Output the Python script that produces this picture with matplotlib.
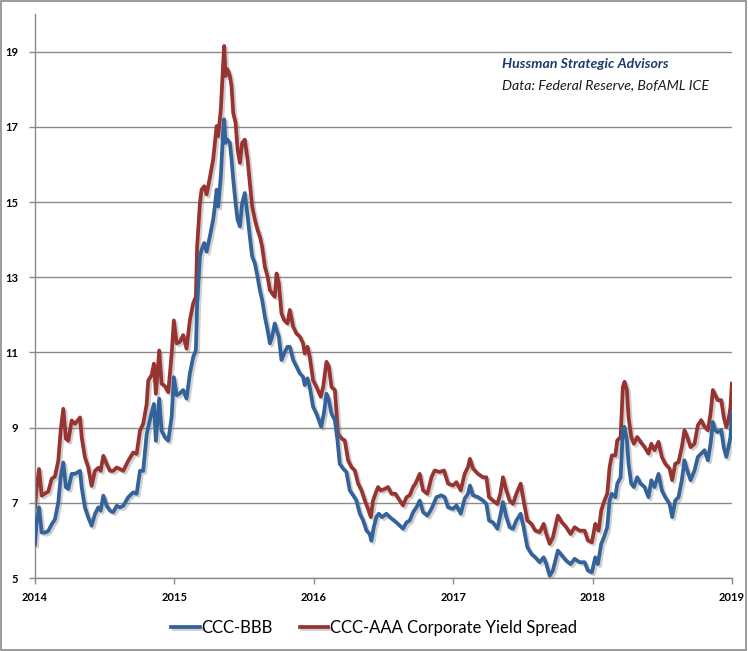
import matplotlib
matplotlib.use("Agg")
import matplotlib.pyplot as plt
import matplotlib.patheffects as pe
from matplotlib.patches import Rectangle

# CCC-AAA corporate yield spread (red), decimal year / percent
aaa_dates = [
    2014.000, 2014.012, 2014.029, 2014.048, 2014.072, 2014.095, 2014.120, 2014.143, 2014.167, 2014.184,
    2014.203, 2014.222, 2014.239, 2014.263, 2014.287, 2014.323, 2014.335, 2014.358, 2014.382, 2014.406,
    2014.430, 2014.454, 2014.471, 2014.490, 2014.514, 2014.538, 2014.561, 2014.586, 2014.609, 2014.633,
    2014.669, 2014.705, 2014.729, 2014.753, 2014.776, 2014.801, 2014.812, 2014.837, 2014.853, 2014.867,
    2014.891, 2014.908, 2014.932, 2014.956, 2014.980, 2014.996, 2015.016, 2015.039, 2015.063, 2015.087,
    2015.111, 2015.135, 2015.154, 2015.163, 2015.183, 2015.195, 2015.214, 2015.231, 2015.254, 2015.278,
    2015.290, 2015.303, 2015.314, 2015.333, 2015.350, 2015.357, 2015.367, 2015.381, 2015.398, 2015.410,
    2015.422, 2015.439, 2015.453, 2015.470, 2015.486, 2015.505, 2015.525, 2015.541, 2015.558, 2015.577,
    2015.596, 2015.613, 2015.629, 2015.649, 2015.668, 2015.685, 2015.701, 2015.720, 2015.733, 2015.749,
    2015.768, 2015.787, 2015.811, 2015.828, 2015.852, 2015.876, 2015.900, 2015.923, 2015.935, 2015.955,
    2015.971, 2015.995, 2016.019, 2016.050, 2016.067, 2016.091, 2016.108, 2016.127, 2016.151, 2016.174,
    2016.199, 2016.222, 2016.246, 2016.270, 2016.294, 2016.318, 2016.342, 2016.366, 2016.389, 2016.409,
    2016.425, 2016.442, 2016.461, 2016.480, 2016.509, 2016.533, 2016.557, 2016.586, 2016.616, 2016.640,
    2016.665, 2016.688, 2016.712, 2016.729, 2016.760, 2016.784, 2016.815, 2016.844, 2016.867, 2016.903,
    2016.934, 2016.963, 2016.999, 2017.023, 2017.054, 2017.082, 2017.106, 2017.120, 2017.142, 2017.178,
    2017.214, 2017.238, 2017.257, 2017.285, 2017.317, 2017.338, 2017.357, 2017.381, 2017.405, 2017.429,
    2017.453, 2017.484, 2017.505, 2017.532, 2017.561, 2017.589, 2017.620, 2017.649, 2017.668, 2017.692,
    2017.715, 2017.751, 2017.780, 2017.811, 2017.842, 2017.871, 2017.907, 2017.943, 2017.966, 2017.995,
    2018.019, 2018.043, 2018.062, 2018.081, 2018.105, 2018.122, 2018.138, 2018.163, 2018.177, 2018.201,
    2018.217, 2018.229, 2018.246, 2018.258, 2018.277, 2018.296, 2018.320, 2018.344, 2018.373, 2018.401,
    2018.421, 2018.444, 2018.473, 2018.497, 2018.521, 2018.552, 2018.571, 2018.593, 2018.616, 2018.640,
    2018.659, 2018.679, 2018.703, 2018.731, 2018.755, 2018.779, 2018.803, 2018.827, 2018.846, 2018.863,
    2018.880, 2018.898, 2018.923, 2018.941, 2018.959, 2018.975, 2018.989, 2018.999,
]
aaa_spread = [
    6.88, 7.41, 7.90, 7.19, 7.25, 7.30, 7.64, 7.70, 8.12, 8.92,
    9.50, 8.70, 8.65, 9.19, 9.10, 9.27, 8.74, 8.21, 7.94, 7.45,
    7.85, 7.93, 7.85, 8.25, 8.03, 7.85, 7.85, 7.94, 7.90, 7.85,
    8.12, 8.34, 8.30, 8.92, 9.10, 9.63, 10.25, 10.40, 10.70, 9.90,
    11.05, 10.17, 10.10, 9.94, 10.95, 11.85, 11.24, 11.28, 11.46, 11.10,
    11.86, 12.31, 12.48, 13.82, 14.97, 15.33, 15.42, 15.20, 15.64, 16.13,
    16.57, 17.02, 16.75, 17.46, 18.70, 19.15, 18.35, 18.53, 18.35, 18.08,
    17.37, 17.10, 16.40, 16.04, 16.57, 16.66, 16.13, 15.50, 14.88, 14.53,
    14.26, 14.08, 13.82, 13.28, 13.02, 12.66, 12.57, 12.48, 13.10, 12.84,
    12.04, 11.86, 11.77, 12.13, 11.68, 11.50, 11.42, 11.24, 10.97, 11.15,
    10.88, 10.26, 10.08, 9.82, 10.08, 10.75, 10.62, 10.08, 10.00, 8.84,
    8.71, 8.66, 8.13, 7.95, 7.86, 7.51, 7.33, 7.06, 6.84, 6.62,
    7.06, 7.24, 7.42, 7.33, 7.37, 7.42, 7.24, 7.24, 7.06, 6.93,
    7.15, 7.20, 7.42, 7.51, 7.77, 7.33, 7.24, 7.68, 7.86, 7.82,
    7.86, 7.51, 7.46, 7.55, 7.33, 7.77, 7.95, 8.17, 7.91, 7.77,
    7.68, 7.68, 7.15, 7.06, 6.97, 7.24, 7.68, 7.33, 7.06, 6.97,
    7.24, 7.51, 7.06, 6.53, 6.44, 6.26, 6.22, 6.44, 6.17, 5.91,
    6.08, 6.66, 6.48, 6.35, 6.17, 6.35, 6.26, 6.26, 6.00, 5.95,
    6.44, 6.26, 6.80, 7.02, 7.24, 7.95, 8.26, 8.26, 8.66, 8.75,
    10.08, 10.22, 10.00, 9.28, 8.75, 8.57, 8.75, 8.62, 8.48, 8.31,
    8.57, 8.40, 8.62, 8.22, 8.04, 7.91, 7.60, 8.04, 8.08, 8.48,
    8.93, 8.75, 8.48, 8.57, 9.06, 9.20, 9.02, 8.93, 9.37, 10.00,
    9.86, 9.73, 9.73, 9.28, 9.02, 9.20, 9.55, 10.17,
]

# CCC-BBB spread (blue)
bbb_dates = [
    2014.000, 2014.012, 2014.029, 2014.048, 2014.072, 2014.095, 2014.120, 2014.143, 2014.167, 2014.184,
    2014.203, 2014.222, 2014.239, 2014.263, 2014.287, 2014.323, 2014.335, 2014.358, 2014.382, 2014.406,
    2014.430, 2014.454, 2014.471, 2014.490, 2014.514, 2014.538, 2014.561, 2014.586, 2014.609, 2014.633,
    2014.669, 2014.705, 2014.729, 2014.753, 2014.776, 2014.801, 2014.812, 2014.837, 2014.853, 2014.867,
    2014.891, 2014.908, 2014.932, 2014.956, 2014.980, 2014.996, 2015.016, 2015.039, 2015.063, 2015.087,
    2015.111, 2015.135, 2015.154, 2015.163, 2015.183, 2015.195, 2015.214, 2015.231, 2015.254, 2015.278,
    2015.290, 2015.303, 2015.314, 2015.333, 2015.350, 2015.357, 2015.367, 2015.381, 2015.398, 2015.410,
    2015.422, 2015.439, 2015.453, 2015.470, 2015.486, 2015.505, 2015.525, 2015.541, 2015.558, 2015.577,
    2015.596, 2015.613, 2015.629, 2015.649, 2015.668, 2015.685, 2015.701, 2015.720, 2015.733, 2015.749,
    2015.768, 2015.787, 2015.811, 2015.828, 2015.852, 2015.876, 2015.900, 2015.923, 2015.935, 2015.955,
    2015.971, 2015.995, 2016.019, 2016.053, 2016.072, 2016.091, 2016.108, 2016.127, 2016.151, 2016.170,
    2016.186, 2016.210, 2016.234, 2016.258, 2016.282, 2016.306, 2016.330, 2016.354, 2016.378, 2016.401,
    2016.413, 2016.430, 2016.449, 2016.466, 2016.490, 2016.521, 2016.545, 2016.576, 2016.604, 2016.640,
    2016.665, 2016.688, 2016.712, 2016.736, 2016.760, 2016.784, 2016.815, 2016.844, 2016.880, 2016.915,
    2016.939, 2016.963, 2016.999, 2017.023, 2017.054, 2017.082, 2017.106, 2017.120, 2017.142, 2017.178,
    2017.214, 2017.238, 2017.257, 2017.285, 2017.317, 2017.338, 2017.357, 2017.381, 2017.405, 2017.429,
    2017.453, 2017.484, 2017.505, 2017.532, 2017.561, 2017.589, 2017.620, 2017.649, 2017.668, 2017.692,
    2017.715, 2017.751, 2017.780, 2017.811, 2017.842, 2017.871, 2017.907, 2017.943, 2017.966, 2017.995,
    2018.019, 2018.038, 2018.062, 2018.081, 2018.105, 2018.122, 2018.138, 2018.163, 2018.177, 2018.201,
    2018.217, 2018.229, 2018.246, 2018.258, 2018.277, 2018.296, 2018.320, 2018.344, 2018.373, 2018.401,
    2018.421, 2018.444, 2018.473, 2018.497, 2018.521, 2018.552, 2018.571, 2018.593, 2018.616, 2018.640,
    2018.659, 2018.679, 2018.703, 2018.731, 2018.755, 2018.779, 2018.803, 2018.827, 2018.846, 2018.863,
    2018.880, 2018.898, 2018.923, 2018.941, 2018.959, 2018.975, 2018.989, 2018.999,
]
bbb_spread = [
    5.90, 6.52, 6.88, 6.21, 6.21, 6.25, 6.43, 6.56, 7.01, 7.68,
    8.07, 7.41, 7.37, 7.77, 7.77, 7.85, 7.41, 6.88, 6.61, 6.39,
    6.70, 6.88, 6.79, 7.19, 6.92, 6.79, 6.75, 6.92, 6.88, 6.92,
    7.15, 7.28, 7.24, 7.85, 7.85, 8.83, 9.00, 9.41, 9.63, 8.65,
    9.77, 8.92, 8.74, 8.65, 9.28, 10.34, 9.86, 9.91, 10.00, 9.77,
    10.44, 10.88, 11.06, 12.31, 13.55, 13.73, 13.91, 13.68, 14.08, 14.53,
    14.88, 15.33, 14.88, 15.68, 16.93, 17.20, 16.57, 16.66, 16.57, 16.13,
    15.60, 14.97, 14.53, 14.35, 14.97, 15.24, 14.62, 14.08, 13.55, 13.37,
    13.02, 12.66, 12.40, 11.95, 11.60, 11.24, 11.42, 11.77, 11.60, 11.42,
    10.80, 10.97, 11.15, 11.15, 10.80, 10.62, 10.44, 10.35, 10.13, 10.31,
    10.08, 9.55, 9.37, 9.02, 9.37, 9.90, 9.73, 9.37, 9.20, 8.66,
    8.04, 7.91, 7.82, 7.33, 7.20, 7.06, 6.71, 6.53, 6.26, 6.17,
    5.99, 6.35, 6.62, 6.71, 6.62, 6.71, 6.62, 6.53, 6.44, 6.31,
    6.48, 6.53, 6.75, 6.88, 7.06, 6.75, 6.66, 6.84, 7.15, 7.20,
    7.15, 6.88, 6.84, 6.93, 6.71, 7.11, 7.24, 7.46, 7.20, 7.15,
    7.06, 6.97, 6.53, 6.48, 6.31, 6.66, 7.02, 6.62, 6.35, 6.31,
    6.53, 6.71, 6.35, 5.82, 5.64, 5.55, 5.42, 5.55, 5.37, 5.06,
    5.20, 5.73, 5.60, 5.46, 5.37, 5.51, 5.42, 5.42, 5.20, 5.15,
    5.55, 5.37, 5.91, 6.08, 6.35, 7.06, 7.24, 7.15, 7.51, 7.68,
    8.93, 9.02, 8.66, 8.04, 7.51, 7.42, 7.68, 7.51, 7.42, 7.15,
    7.60, 7.42, 7.77, 7.33, 7.15, 6.97, 6.62, 7.06, 7.15, 7.60,
    8.13, 7.86, 7.60, 7.86, 8.22, 8.31, 8.40, 8.13, 8.57, 9.15,
    8.93, 8.88, 8.93, 8.48, 8.22, 8.48, 8.75, 9.37,
]

year_ticks = [2014, 2015, 2016, 2017, 2018, 2019]
y_ticks = [5, 7, 9, 11, 13, 15, 17, 19]

BLUE = "#33639a"
RED = "#973431"
GRID = "#8a8a8a"

plt.rcParams["font.family"] = ["Lato", "DejaVu Sans"]

fig = plt.figure(figsize=(7.48, 6.51), dpi=100)
ax = fig.add_axes([0.0468, 0.1121, 0.9318, 0.8664])

shadow = [pe.SimpleLineShadow(offset=(1.5, -1.5), shadow_color="#777777", alpha=0.35),
          pe.Normal()]
ax.plot(bbb_dates, bbb_spread, color=BLUE, lw=2.7, label="CCC-BBB",
        path_effects=shadow, zorder=3, solid_joinstyle="round")
ax.plot(aaa_dates, aaa_spread, color=RED, lw=2.7, label="CCC-AAA Corporate Yield Spread",
        path_effects=shadow, zorder=2, solid_joinstyle="round")

ax.set_xlim(2014, 2019)
ax.set_ylim(5, 20)
ax.set_xticks(year_ticks)
ax.set_xticklabels([str(y) for y in year_ticks])
ax.set_yticks(y_ticks)
ax.set_yticklabels([str(v) for v in y_ticks])
ax.tick_params(axis="both", labelsize=8, colors=GRID, labelcolor="black",
               length=4, width=1, direction="out")
ax.tick_params(axis="y", pad=8)
ax.tick_params(axis="x", pad=6)
for lab in ax.get_xticklabels() + ax.get_yticklabels():
    lab.set_fontweight("bold")

ax.grid(axis="y", color=GRID, lw=1)
ax.set_axisbelow(True)
for side in ("top", "right"):
    ax.spines[side].set_visible(False)
for side in ("left", "bottom"):
    ax.spines[side].set_color(GRID)
    ax.spines[side].set_linewidth(1)

ax.text(0.670, 0.905, "Hussman Strategic Advisors", transform=ax.transAxes,
        fontsize=10.2, fontweight="bold", fontstyle="italic", color="#1f3b6b")
ax.text(0.670, 0.866, "Data: Federal Reserve, BofAML ICE", transform=ax.transAxes,
        fontsize=10.2, fontstyle="italic", color="#1a1a1a")

fig.legend(loc="center", bbox_to_anchor=(0.5, 0.035), ncol=2, frameon=False,
           fontsize=12, handlelength=1.7, handletextpad=0.1, columnspacing=1.6)

fig.patches.append(Rectangle((0.0007, 0.0008), 0.997, 0.997, transform=fig.transFigure,
                             fill=False, edgecolor=GRID, lw=1.2))

fig.savefig("out.png", dpi=100)
